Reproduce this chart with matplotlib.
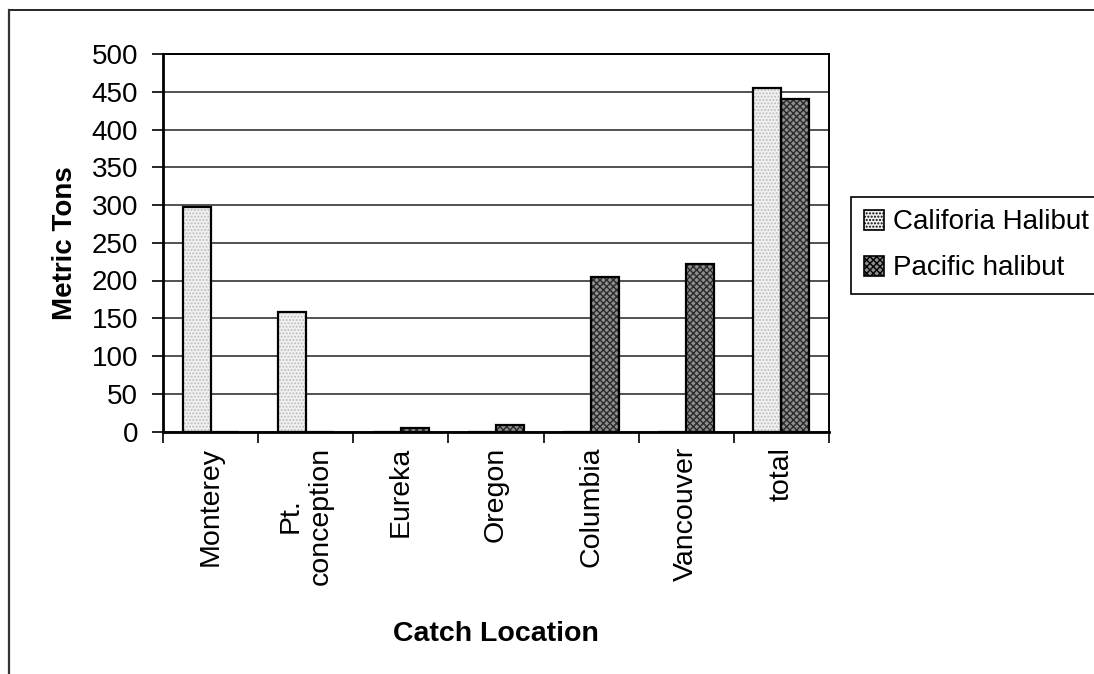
import matplotlib
matplotlib.use("Agg")
import matplotlib.pyplot as plt
import numpy as np
from matplotlib.lines import Line2D

plt.rcParams['font.family'] = ['Liberation Sans', 'DejaVu Sans']

# catch by location, metric tons
locations = ["Monterey", "Pt.\nconception", "Eureka", "Oregon", "Columbia", "Vancouver", "total"]
california = [297, 158, 0, 0, 0, 0, 455]
pacific = [0, 0, 5, 9, 205, 222, 441]
yticks = list(range(0, 501, 50))

CAL_FACE, CAL_DOT = '#f2f2f2', '#bdbdbd'
PAC_FACE, PAC_DOT = '#8e8e8e', '#2a2a2a'

fig = plt.figure(figsize=(10.94, 6.74), dpi=100)
ax = fig.add_axes([163 / 1094, 1 - 431.5 / 674, 666 / 1094, 377.5 / 674])

# outer chart border (runs off the right and bottom)
fig.add_artist(Line2D([8.5 / 1094, 1.01], [1 - 10 / 674] * 2, color='black', lw=1.2,
                      transform=fig.transFigure))
fig.add_artist(Line2D([8.5 / 1094] * 2, [-0.01, 1 - 10 / 674], color='#333333', lw=1.6,
                      transform=fig.transFigure))

x = np.arange(len(locations))
w = 0.294

# fills with texture, then black outlines on top
ax.bar(x - w / 2, california, w, color=CAL_FACE, hatch='.....', edgecolor=CAL_DOT,
       linewidth=0, zorder=2)
ax.bar(x + w / 2, pacific, w, color=PAC_FACE, hatch='xxxxx', edgecolor=PAC_DOT,
       linewidth=0, zorder=2)
ax.bar(x - w / 2, california, w, fill=False, edgecolor='black', linewidth=1.6, zorder=3)
ax.bar(x + w / 2, pacific, w, fill=False, edgecolor='black', linewidth=1.6, zorder=3)

ax.set_xlim(-0.5, len(locations) - 0.5)
ax.set_ylim(0, 500)
ax.set_yticks(yticks)
ax.yaxis.grid(True, color='#222222', linewidth=1.1, zorder=1)
ax.set_axisbelow(True)

ax.set_xticks(x)
ax.set_xticklabels(locations, rotation=90, va='top', ha='center', multialignment='center')
ax.set_xticks(np.arange(-0.5, len(locations)), minor=True)
ax.tick_params(axis='x', which='major', length=0, pad=11, labelsize=20.5)
ax.tick_params(axis='x', which='minor', length=8, width=1.2, direction='out')
ax.tick_params(axis='y', length=8, width=1.2, direction='out', pad=10, labelsize=20)

for s in ax.spines.values():
    s.set_linewidth(1.4)
ax.spines['left'].set_linewidth(2)
ax.spines['bottom'].set_linewidth(2)

ax.set_ylabel("Metric Tons", fontsize=20, fontweight='bold', labelpad=10)
ax.set_xlabel("Catch Location", fontsize=20.5, fontweight='bold', labelpad=26)

handles = [
    plt.Rectangle((0, 0), 1, 1, facecolor=CAL_FACE, hatch='.....', edgecolor='black', lw=1.2),
    plt.Rectangle((0, 0), 1, 1, facecolor=PAC_FACE, hatch='xxxxx', edgecolor='black', lw=1.2),
]
leg = fig.legend(handles, ['Califoria Halibut', 'Pacific halibut'], loc='upper left',
                 bbox_to_anchor=(851 / 1094, 1 - 197 / 674), fontsize=20,
                 fancybox=False, framealpha=1, edgecolor='black', handlelength=0.72,
                 handleheight=0.72, handletextpad=0.33, labelspacing=0.72, borderpad=0.45,
                 borderaxespad=0)
leg.get_frame().set_linewidth(1.2)

fig.savefig("out.png", dpi=100)
